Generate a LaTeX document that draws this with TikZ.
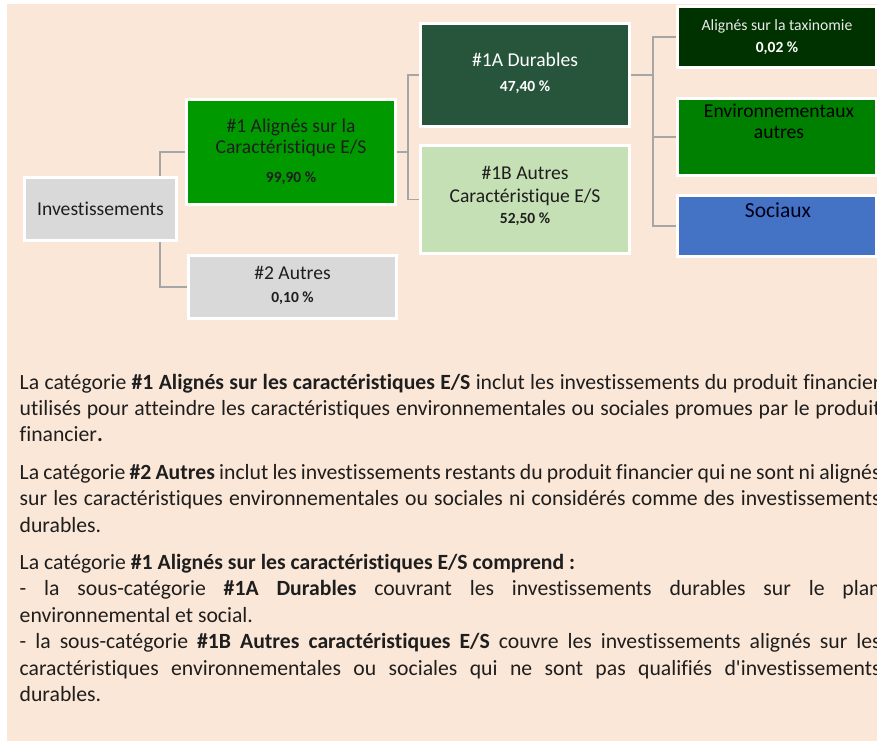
\documentclass[tikz,border=0pt]{standalone}
\usepackage{fontspec}
\setmainfont{Carlito}[Ligatures={TeXOff,CommonOff}]
\definecolor{peach}{HTML}{FBE7D7}
\definecolor{greybox}{HTML}{D9D9D9}
\definecolor{greenA}{HTML}{009A00}
\definecolor{darkA}{HTML}{27553B}
\definecolor{lightB}{HTML}{C5E0B4}
\definecolor{taxo}{HTML}{003200}
\definecolor{envg}{HTML}{008000}
\definecolor{socb}{HTML}{4472C4}
\definecolor{connc}{HTML}{A6A6A6}
\definecolor{ink}{HTML}{1E1E1E}
\begin{document}
\begin{tikzpicture}[x=1pt,y=-1pt,
  box/.style={rectangle, draw=white, line width=3pt, inner sep=0pt},
  conn/.style={draw=connc, line width=1.1pt},
  lbl/.style={anchor=base, inner sep=0pt, text=ink, font=\fontsize{19.6}{23}\selectfont},
  pct/.style={anchor=base, inner sep=0pt, text=ink, font=\bfseries\fontsize{15.5}{18}\selectfont},
  body/.style={anchor=base west, inner sep=0pt, text=ink, font=\fontsize{21.7}{26}\selectfont}]
\useasboundingbox (0,0) rectangle (877,751);
\clip (0,0) rectangle (877,751);
\fill[white] (0,0) rectangle (877,751);
\fill[peach] (7,4) rectangle (877,741);
% boxes
\node[box, fill=greybox, minimum width=152pt, minimum height=63pt] (inv) at (100.5,209) {};
\node[box, fill=greenA, minimum width=209pt, minimum height=105pt] (b1) at (291,152) {};
\node[box, fill=greybox, minimum width=208pt, minimum height=63pt] (b2) at (292.5,287) {};
\node[box, fill=darkA, minimum width=209pt, minimum height=103pt] (b1A) at (525,75) {};
\node[box, fill=lightB, minimum width=209pt, minimum height=108pt] (b1B) at (525,199.5) {};
\node[box, fill=taxo, minimum width=199pt, minimum height=61pt] (tax) at (777,37) {};
\node[box, fill=envg, minimum width=199pt, minimum height=77pt] (env) at (777,137) {};
\node[box, fill=socb, minimum width=199pt, minimum height=61pt] (soc) at (777,226) {};
% connectors
\draw[conn] ([xshift=59.5pt]inv.north) |- (b1.west);
\draw[conn] ([xshift=59.5pt]inv.south) |- (b2.west);
\coordinate (j1) at ([xshift=11pt]b1.east);
\draw[conn] (b1.east) -- (j1);
\draw[conn] (j1) |- (b1A.west);
\draw[conn] (j1) |- (b1B.west);
\coordinate (j2) at ([xshift=22pt]b1A.east);
\draw[conn] (b1A.east) -- (j2);
\draw[conn] (j2) |- (tax.west);
\draw[conn] (j2) |- (env.west);
\draw[conn] (j2) |- (soc.west);
% box texts
\node[lbl] (tinv) at (100.5,215) {Investissements};
\node[lbl] (tb1a) at (291,133) {\#1 Alignés sur la};
\node[lbl] (tb1b) at (291,154) {Caractéristique E/S};
\node[pct] (tb1c) at (291,183) {99,90 \%};
\node[lbl] (tb2a) at (292.5,279) {\#2 Autres};
\node[pct] (tb2b) at (292.5,302) {0,10 \%};
\node[lbl, text=white] (t1Aa) at (525,67) {\#1A Durables};
\node[pct, text=white] (t1Ab) at (525,92) {47,40 \%};
\node[lbl] (t1Ba) at (525,180) {\#1B Autres};
\node[lbl] (t1Bb) at (525,203) {Caractéristique E/S};
\node[pct] (t1Bc) at (525,224) {52,50 \%};
\node[lbl, text=white!92!black, font=\fontsize{15.7}{18}\selectfont] (ttaxa) at (777,30.5) {Alignés sur la taxinomie};
\node[pct, text=white] (ttaxb) at (777,52.5) {0,02 \%};
\node[lbl, text=black] (tenva) at (779,118) {Environnementaux};
\node[lbl, text=black] (tenvb) at (779,139) {autres};
\node[lbl, text=black!90!blue, font=\fontsize{21.5}{25}\selectfont] (tsoc) at (778,218) {Sociaux};
% body text
\node[body] (p1a) at (19.5,389) {\makebox[861pt][s]{La catégorie \textbf{\#1 Alignés sur les caractéristiques E/S} inclut les investissements du produit financier}};
\node[body] (p1b) at (19.5,415.4) {\makebox[861pt][s]{utilisés pour atteindre les caractéristiques environnementales ou sociales promues par le produit}};
\node[body] (p1c) at (19.5,441.8) {financier\textbf{.}};
\node[body] (p2a) at (19.5,479.2) {\makebox[861pt][s]{La catégorie \textbf{\#2 Autres} inclut les investissements restants du produit financier qui ne sont ni alignés}};
\node[body] (p2b) at (19.5,505.6) {\makebox[861pt][s]{sur les caractéristiques environnementales ou sociales ni considérés comme des investissements}};
\node[body] (p2c) at (19.5,532) {durables.};
\node[body] (p3a) at (19.5,569.4) {La catégorie \textbf{\#1 Alignés sur les caractéristiques E/S comprend :}};
\node[body] (p3b) at (19.5,595.8) {\makebox[861pt][s]{- la sous-catégorie \textbf{\#1A Durables} couvrant les investissements durables sur le plan}};
\node[body] (p3c) at (19.5,622.2) {environnemental et social.};
\node[body] (p3d) at (19.5,648.6) {\makebox[861pt][s]{- la sous-catégorie \textbf{\#1B Autres caractéristiques E/S} couvre les investissements alignés sur les}};
\node[body] (p3e) at (19.5,675) {\makebox[861pt][s]{caractéristiques environnementales ou sociales qui ne sont pas qualifiés d'investissements}};
\node[body] (p3f) at (19.5,701.4) {durables.};
\end{tikzpicture}
\end{document}
